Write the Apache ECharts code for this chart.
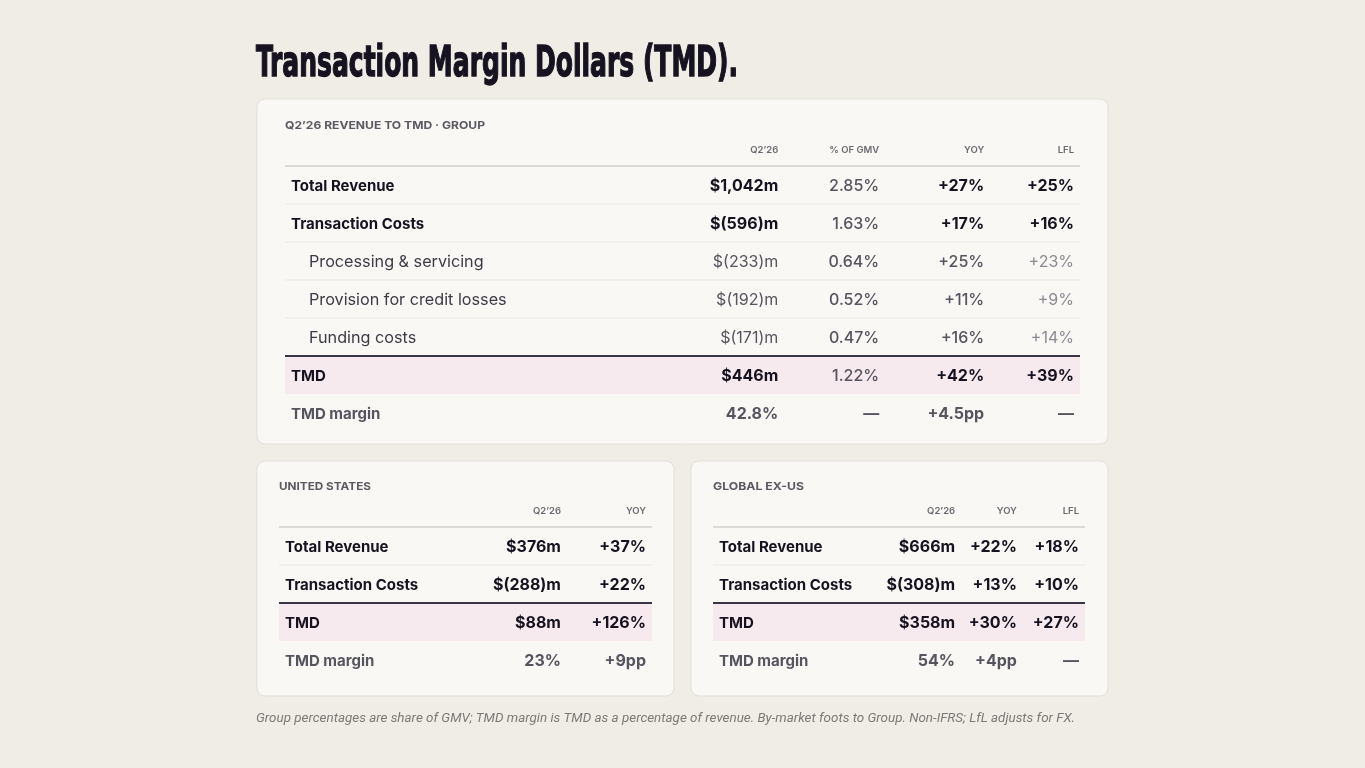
<!DOCTYPE html>
<html>
<head>
<meta charset="utf-8">
<script src="https://cdn.jsdelivr.net/npm/echarts@6/dist/echarts.min.js"></script>
<style>
html, body { margin: 0; background: #f0ede7; }
#main { width: 1365px; height: 768px; }
</style>
</head>
<body>
<div id="main"></div>
<script>
// group table
var groupLabels = ['Total Revenue', 'Transaction Costs', 'Processing & servicing', 'Provision for credit losses', 'Funding costs', 'TMD', 'TMD margin'];
var groupQ2 = ['$1,042m', '$(596)m', '$(233)m', '$(192)m', '$(171)m', '$446m', '42.8%'];
var groupGmv = ['2.85%', '1.63%', '0.64%', '0.52%', '0.47%', '1.22%', '—'];
var groupYoy = ['+27%', '+17%', '+25%', '+11%', '+16%', '+42%', '+4.5pp'];
var groupLfl = ['+25%', '+16%', '+23%', '+9%', '+14%', '+39%', '—'];

// united states
var usLabels = ['Total Revenue', 'Transaction Costs', 'TMD', 'TMD margin'];
var usQ2 = ['$376m', '$(288)m', '$88m', '23%'];
var usYoy = ['+37%', '+22%', '+126%', '+9pp'];

// global ex-us
var exLabels = ['Total Revenue', 'Transaction Costs', 'TMD', 'TMD margin'];
var exQ2 = ['$666m', '$(308)m', '$358m', '54%'];
var exYoy = ['+22%', '+13%', '+30%', '+4pp'];
var exLfl = ['+18%', '+10%', '+27%', '—'];

var titleText = 'Transaction Margin Dollars (TMD).';
var noteText = 'Group percentages are share of GMV; TMD margin is TMD as a percentage of revenue. By-market foots to Group. Non-IFRS; LfL adjusts for FX.';

var DARK = '#16121f', GRAY = '#56545e', LIGHT = '#8b8991', HEAD = '#6b6a70';
var FONT = 'Inter, "Noto Sans", sans-serif';

// column right edges are given in percent of the table width (layout only)
var tables = [
    { title: 'Q2’26 REVENUE TO TMD · GROUP', titleWidth: 200, titleY: 126, labels: groupLabels, group: true,
      grid: { left: 285, top: 128, width: 795, height: 304 },
      cols: [
          { key: 'q2', head: 'Q2’26', vals: groupQ2, edge: 62.8 },
          { key: 'gmv', head: '% OF GMV', vals: groupGmv, edge: 75.5 },
          { key: 'yoy', head: 'YOY', vals: groupYoy, edge: 88.7 },
          { key: 'lfl', head: 'LFL', vals: groupLfl, edge: 100 }
      ] },
    { title: 'UNITED STATES', titleWidth: 92, titleY: 487, labels: usLabels, group: false,
      grid: { left: 279, top: 489, width: 373, height: 190 },
      cols: [
          { key: 'q2', head: 'Q2’26', vals: usQ2, edge: 77.2 },
          { key: 'yoy', head: 'YOY', vals: usYoy, edge: 100 }
      ] },
    { title: 'GLOBAL EX-US', titleWidth: 91, titleY: 487, labels: exLabels, group: false,
      grid: { left: 713, top: 489, width: 372, height: 190 },
      cols: [
          { key: 'q2', head: 'Q2’26', vals: exQ2, edge: 66.7 },
          { key: 'yoy', head: 'YOY', vals: exYoy, edge: 83.3 },
          { key: 'lfl', head: 'LFL', vals: exLfl, edge: 100 }
      ] }
];

function rowKinds(labels) {
    var kinds = [], afterCosts = false;
    labels.forEach(function (l) {
        if (l === 'TMD') { kinds.push('total'); afterCosts = false; }
        else if (l === 'TMD margin') kinds.push('margin');
        else if (afterCosts) kinds.push('sub');
        else kinds.push('main');
        if (l === 'Transaction Costs') afterCosts = true;
    });
    return kinds;
}

function cellStyle(t, kind, key) {
    if (kind === 'margin') return { w: 700, c: GRAY };
    if (!t.group) return { w: 700, c: DARK };
    if (key === 'gmv') return { w: 500, c: GRAY };
    if (kind === 'sub') {
        if (key === 'q2') return { w: 400, c: GRAY };
        if (key === 'yoy') return { w: 500, c: GRAY };
        return { w: 400, c: LIGHT };
    }
    return { w: 700, c: DARK };
}

function measure(font, text) {
    var ctx = document.createElement('canvas').getContext('2d');
    ctx.font = font;
    return ctx.measureText(text).width;
}

var grids = [], xAxes = [], yAxes = [], series = [];

tables.forEach(function (t, ti) {
    var kinds = rowKinds(t.labels);
    grids.push(t.grid);
    xAxes.push({ type: 'value', gridIndex: ti, min: 0, max: 100, show: false });
    yAxes.push({ type: 'category', gridIndex: ti, inverse: true, data: ['head'].concat(t.labels), show: false });

    // row backgrounds and rules
    var rowData = [];
    for (var r = 0; r <= t.labels.length; r++) rowData.push([0, r]);
    series.push({
        type: 'custom', xAxisIndex: ti, yAxisIndex: ti, z: 2, silent: true,
        data: rowData,
        renderItem: function (params, api) {
            var row = api.value(1);
            var cs = params.coordSys;
            var h = api.size([0, 1])[1];
            var top = api.coord([0, row])[1] - h / 2;
            var kids = [];
            if (row === 0) {
                kids.push({ type: 'line', shape: { x1: cs.x, y1: top + h, x2: cs.x + cs.width, y2: top + h },
                    style: { stroke: '#d3d1cc', lineWidth: 1.5 } });
                return { type: 'group', children: kids };
            }
            var kind = kinds[row - 1], next = kinds[row];
            if (kind === 'total') {
                kids.push({ type: 'rect', shape: { x: cs.x, y: top, width: cs.width, height: h },
                    style: { fill: '#f6eaee' } });
                kids.push({ type: 'line', shape: { x1: cs.x, y1: top, x2: cs.x + cs.width, y2: top },
                    style: { stroke: '#3a3545', lineWidth: 2 } });
            } else if (next && next !== 'total' && kind !== 'margin') {
                kids.push({ type: 'line', shape: { x1: cs.x, y1: top + h, x2: cs.x + cs.width, y2: top + h },
                    style: { stroke: '#ebe9e4', lineWidth: 1 } });
            }
            return { type: 'group', children: kids };
        }
    });

    // text cells
    var cells = [], cellData = [];
    t.cols.forEach(function (col) {
        cells.push({ text: col.head, align: 'right', head: true, font: '600 9.5px ' + FONT, color: HEAD });
        cellData.push([col.edge, 0]);
    });
    t.labels.forEach(function (l, i) {
        var k = kinds[i];
        var lf = k === 'sub' ? '400 16.2px ' + FONT : '700 15px ' + FONT;
        cells.push({ text: l, align: 'left', indent: k === 'sub' ? 24 : 6, font: lf,
            color: k === 'margin' ? GRAY : (k === 'sub' ? '#3d3b46' : DARK) });
        cellData.push([0, i + 1]);
        t.cols.forEach(function (col) {
            var s = cellStyle(t, k, col.key);
            cells.push({ text: col.vals[i], align: 'right', font: s.w + ' 16px ' + FONT, color: s.c });
            cellData.push([col.edge, i + 1]);
        });
    });
    series.push({
        type: 'custom', xAxisIndex: ti, yAxisIndex: ti, z: 5, silent: true,
        data: cellData,
        renderItem: function (params, api) {
            var cell = cells[params.dataIndex];
            var c = api.coord([api.value(0), api.value(1)]);
            var h = api.size([0, 1])[1];
            var x = cell.align === 'left' ? c[0] + cell.indent : c[0] - 6;
            var y = cell.head ? c[1] + h / 2 - 16 : c[1] + 1;
            return { type: 'text', x: x, y: y,
                style: { text: cell.text, font: cell.font, fill: cell.color, align: cell.align, verticalAlign: 'middle' } };
        }
    });
});

var titleFont = '700 43px "DejaVu Sans Condensed", sans-serif';
var titleScale = 482 / measure(titleFont, titleText);
var noteFont = 'italic 12.5px Roboto, "Noto Sans", sans-serif';
var noteScale = 819 / measure(noteFont, noteText);
var headFont = '700 11px ' + FONT;

var panelStyle = { fill: '#f9f8f4', stroke: '#e2dfd8', lineWidth: 1 };

var graphics = [
    { type: 'rect', z: 0, shape: { x: 257, y: 99, width: 851, height: 345, r: 8 }, style: panelStyle },
    { type: 'rect', z: 0, shape: { x: 257, y: 461, width: 417, height: 235, r: 8 }, style: panelStyle },
    { type: 'rect', z: 0, shape: { x: 691, y: 461, width: 417, height: 235, r: 8 }, style: panelStyle },
    { type: 'text', z: 1, x: 256, y: 65, scaleX: titleScale,
      style: { text: titleText, font: titleFont, fill: DARK, stroke: DARK, lineWidth: 1.4, verticalAlign: 'middle' } },
    { type: 'text', z: 1, x: 256, y: 719, scaleX: noteScale,
      style: { text: noteText, font: noteFont, fill: '#7c7a76', verticalAlign: 'middle' } }
];
tables.forEach(function (t) {
    graphics.push({ type: 'text', z: 1, x: t.grid.left, y: t.titleY,
        scaleX: t.titleWidth / measure(headFont, t.title),
        style: { text: t.title, font: headFont, fill: '#5b5a62', verticalAlign: 'middle' } });
});

var chart = echarts.init(document.getElementById('main'));
var option = {
    backgroundColor: '#f0ede7',
    animation: false,
    grid: grids,
    xAxis: xAxes,
    yAxis: yAxes,
    graphic: graphics,
    series: series
};
chart.setOption(option);
</script>
</body>
</html>
